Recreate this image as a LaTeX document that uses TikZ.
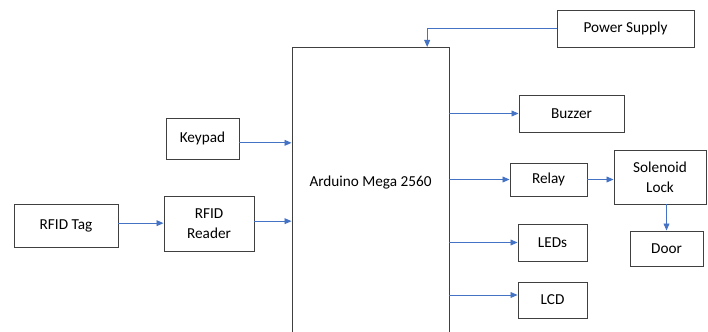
\documentclass[tikz,border=0pt]{standalone}
\usepackage{fontspec}
\setmainfont{Carlito}
\usetikzlibrary{arrows.meta,positioning}
\definecolor{boxgray}{HTML}{404040}
\definecolor{flowblue}{HTML}{4472C4}
\tikzset{
      blockbox/.style={
        draw=boxgray,
        line width=0.8pt,
        fill=white,
        align=center,
        inner sep=0pt,
        font=\fontsize{13}{17}\selectfont
      },
      flow/.style={
        -{Triangle[length=6pt,width=5pt]},
        line width=0.8pt,
        color=flowblue
      }
    }
\begin{document}
\begin{tikzpicture}[x=0.03cm,y=-0.03cm]
    \clip (0,0) rectangle (708,331);
    \fill[white] (0,0) rectangle (708,331);
    \node[blockbox, anchor=north, minimum width=4.71cm, minimum height=8.94cm] (mega) at (370.5,47) {};
    \node[font=\fontsize{13}{17}\selectfont] (megatext) at (370.5,183) {Arduino Mega 2560};
    \node[blockbox, minimum width=4.11cm, minimum height=1.11cm] (power) at (625.5,28.5) {Power Supply};
    \node[blockbox, minimum width=2.19cm, minimum height=1.23cm] (keypad) at (202.5,138.5) {Keypad};
    \node[blockbox, minimum width=3.12cm, minimum height=1.29cm] (tag) at (66,225.5) {RFID Tag};
    \node[blockbox, minimum width=2.7cm, minimum height=1.65cm] (reader) at (209,223.5) {RFID\\Reader};
    \node[blockbox, minimum width=3.15cm, minimum height=1.11cm] (buzzer) at (571.5,113.5) {Buzzer};
    \node[blockbox, minimum width=2.31cm, minimum height=0.99cm] (relay) at (548.5,179.5) {Relay};
    \node[blockbox, minimum width=2.76cm, minimum height=1.62cm] (solenoid) at (660,177) {Solenoid\\Lock};
    \node[blockbox, minimum width=2.19cm, minimum height=1.05cm] (door) at (666.5,248.5) {Door};
    \node[blockbox, minimum width=2.07cm, minimum height=1.11cm] (leds) at (552.5,242.5) {LEDs};
    \node[blockbox, minimum width=2.07cm, minimum height=1.08cm] (lcd) at (552.5,300) {LCD};
    % inputs
    \draw[flow] (power.west) -| ([xshift=1.7cm]mega.north);
    \draw[flow] ([yshift=-0.13cm]keypad.east) -- ([yshift=-0.13cm]keypad.east -| mega.west);
    \draw[flow] ([yshift=0.07cm]tag.east) -- ([yshift=0.07cm]tag.east -| reader.west);
    \draw[flow] ([yshift=0.07cm]reader.east) -- ([yshift=0.07cm]reader.east -| mega.west);
    % outputs
    \draw[flow] (mega.east |- buzzer.west) -- (buzzer.west);
    \draw[flow] (mega.east |- relay.west) -- (relay.west);
    \draw[flow] (relay.east) -- (relay.east -| solenoid.west);
    \draw[flow] (solenoid.south -| door.north) -- (door.north);
    \draw[flow] (mega.east |- leds.west) -- (leds.west);
    \draw[flow] ([yshift=0.15cm]mega.east |- lcd.west) -- ([yshift=0.15cm]lcd.west);
    \end{tikzpicture}
\end{document}
